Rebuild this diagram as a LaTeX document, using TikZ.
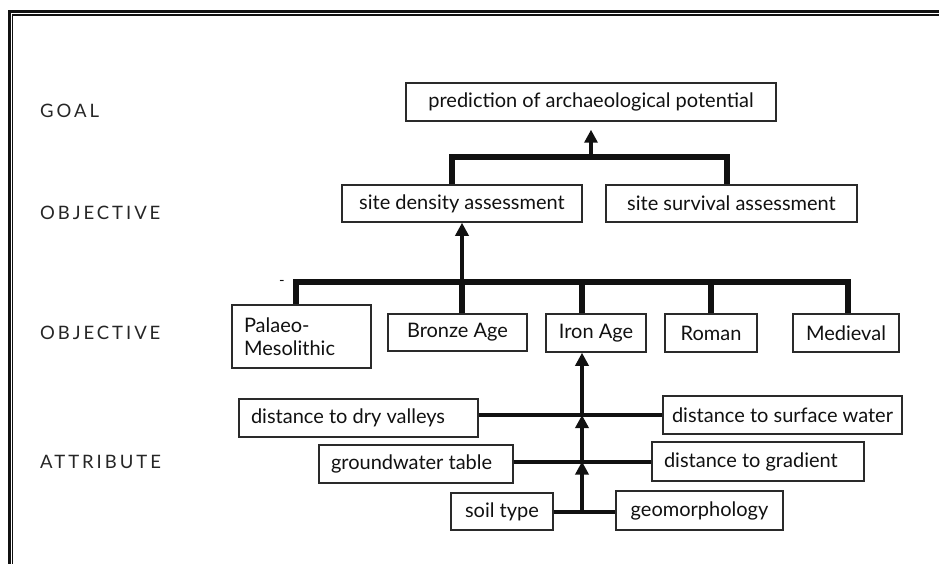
\documentclass[tikz,border=0pt]{standalone}
\usepackage{fontspec}
\setmainfont{Lato}
\newfontfamily\labelfont[LetterSpace=16]{Lato}
\usetikzlibrary{arrows.meta}
\definecolor{ink}{HTML}{111111}
\definecolor{lab}{HTML}{262626}
\definecolor{edge}{HTML}{2A2A2A}
\newcommand{\lft}[2]{\makebox[#1][l]{#2}}
\tikzset{
  box/.style={draw=edge, line width=1.5pt, inner xsep=12pt, inner ysep=0pt,
    text=ink, font=\fontsize{20}{23}\selectfont, minimum height=#1},
  box/.default=38pt,
  lvl/.style={anchor=west, text=lab, inner sep=0pt, font=\fontsize{18.5}{20}\selectfont\labelfont},
  bar/.style={line width=5.5pt, draw=ink, line join=miter},
  thinbar/.style={line width=4pt, draw=ink},
  arr/.style={line width=4.5pt, draw=ink, -{Triangle[width=13pt,length=13pt]}},
}
\begin{document}
\begin{tikzpicture}[x=1pt,y=-1pt]
\useasboundingbox (0,0) rectangle (939,564);
% frame
\draw[line width=3pt, ink] (9,564) -- (9,12) -- (939,12);
\draw[line width=1.4pt, ink] (12.4,564) -- (12.4,15.2) -- (939,15.2);
% level labels
\node[lvl] (lgoal) at (40,111) {GOAL};
\node[lvl] (lobj1) at (40,213) {OBJECTIVE};
\node[lvl] (lobj2) at (40,333) {OBJECTIVE};
\node[lvl] (lattr) at (40,462) {ATTRIBUTE};
% boxes
\node[box, minimum width=370pt] (goal) at (591,102) {prediction of archaeological potential};
\node[box=37pt, minimum width=240pt] (dens) at (462,203.5) {site density assessment};
\node[box=37pt, minimum width=251pt] (surv) at (731.5,203.5) {site survival assessment};
\node[box=63pt, text width=115pt, align=left] (palaeo) at (301.5,336.5) {Palaeo-\\Mesolithic};
\node[box=37pt, minimum width=139pt] (bronze) at (457.5,332.5) {Bronze Age};
\node[box, minimum width=100pt] (iron) at (596,333) {Iron Age};
\node[box, minimum width=92pt] (roman) at (711,333) {Roman};
\node[box, minimum width=106pt] (medieval) at (846,333) {Medieval};
\node[box, minimum width=239pt] (dry) at (358.5,418) {\lft{215pt}{distance to dry valleys}};
\node[box, minimum width=239pt, inner xsep=9pt] (surface) at (782.5,415) {distance to surface water};
\node[box, minimum width=194pt] (ground) at (416,464) {\lft{170pt}{groundwater table}};
\node[box=39pt, minimum width=212pt] (gradient) at (758,461.5) {\lft{188pt}{distance to gradient}};
\node[box=37pt, minimum width=102pt] (soil) at (502,511.5) {soil type};
\node[box=39pt, minimum width=167pt] (geo) at (699.5,510.5) {geomorphology};
\node[text=ink, inner sep=0pt, font=\fontsize{15}{16}\selectfont] (dash) at (282,283) {-};
% named points of the bars and the trunk
\coordinate (b1L) at (452,157);
\coordinate (b1R) at (727,157);
\coordinate (b2L) at (296,282);
\coordinate (b2R) at (848,282);
\coordinate (tk) at (582,282);
% goal level
\draw[bar] (dens.north -| b1L) |- (b1R) -- (surv.north -| b1R);
\draw[arr, shorten >=8pt] (goal.south |- b1L) -- (goal.south);
% period level
\draw[bar] (palaeo.north -| b2L) |- (b2R) -- (medieval.north -| b2R);
\draw[bar] (bronze.north -| dens.south) -- (dens.south |- b2L);
\draw[arr] (dens.south |- b2L) -- (dens.south);
\draw[bar] (tk) -- (iron.north -| tk);
\draw[bar] (roman.north) -- (roman.north |- b2L);
% attributes
\draw[thinbar] (surface.west -| dry.east) -- (surface.west);
\draw[thinbar] (gradient.west -| ground.east) -- (gradient.west);
\draw[thinbar] (soil.east) -- (soil.east -| geo.west);
\draw[arr] (soil.east -| tk) -- (gradient.west -| tk);
\draw[arr] (gradient.west -| tk) -- (surface.west -| tk);
\draw[arr] (surface.west -| tk) -- (iron.south -| tk);
\end{tikzpicture}
\end{document}
